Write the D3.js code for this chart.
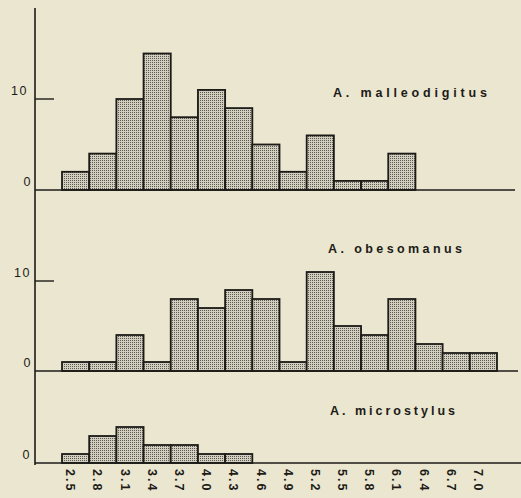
<!DOCTYPE html>
<html>
<head>
<meta charset="utf-8">
<script src="https://cdn.jsdelivr.net/npm/d3@7"></script>
<style>
html,body{margin:0;padding:0;background:#ebe6cf;}
svg{display:block;}
</style>
</head>
<body>
<svg id="chart" width="521" height="498"></svg>
<script>
// ---- data ----
const bins = ["2.5","2.8","3.1","3.4","3.7","4.0","4.3","4.6","4.9","5.2","5.5","5.8","6.1","6.4","6.7","7.0"];
const malleodigitus = [2,4,10,15,8,11,9,5,2,6,1,1,4,0,0,0];
const obesomanus    = [1,1,4,1,8,7,9,8,1,11,5,4,8,3,2,2];
const microstylus   = [1,3,4,2,2,1,1,0,0,0,0,0,0,0,0,0];
const speciesNames  = ["A. malleodigitus","A. obesomanus","A. microstylus"];
const yTicks = [[0,10],[0,10],[0]];

// ---- layout ----
const svg = d3.select("#chart");
const W = 521, H = 498;
const axisX = 35;
const ink = "#1c1b18";

svg.append("rect").attr("width",W).attr("height",H).attr("fill","#ebe6cf");

const defs = svg.append("defs");
const pat = defs.append("pattern").attr("id","dots").attr("patternUnits","userSpaceOnUse")
  .attr("width",2).attr("height",2);
pat.append("rect").attr("width",2).attr("height",2).attr("fill","#d2cebf");
pat.append("rect").attr("width",1).attr("height",1).attr("fill","#5c5951");

const x = d3.scaleBand().domain(bins).range([62, 497]).paddingInner(0).paddingOuter(0);

const panels = [
  {vals: malleodigitus, base: 190, ppu: 9.1, lineEnd: 515, label: speciesNames[0], lx: 333, ly: 97, lw: 154, tickLblX: [32, 28]},
  {vals: obesomanus,    base: 371, ppu: 9.0, lineEnd: 518, label: speciesNames[1], lx: 328, ly: 253, lw: 134, tickLblX: [32, 31]},
  {vals: microstylus,   base: 463, ppu: 9.0, lineEnd: 521, label: speciesNames[2], lx: 330, ly: 415, lw: 125, tickLblX: [31]}
];

panels.forEach((p, i) => {
  const y = d3.scaleLinear().domain([0, 10]).range([p.base, p.base - 10 * p.ppu]);
  const g = svg.append("g");
  const data = bins.map((b, j) => ({bin: b, v: p.vals[j]})).filter(d => d.v > 0);

  g.selectAll("rect.bar").data(data).enter().append("rect")
    .attr("class","bar")
    .attr("x", d => x(d.bin))
    .attr("y", d => y(d.v))
    .attr("width", x.bandwidth())
    .attr("height", d => y(0) - y(d.v))
    .attr("fill","url(#dots)")
    .attr("stroke", ink)
    .attr("stroke-width", 1.8);

  // baseline
  g.append("line").attr("x1", axisX).attr("x2", p.lineEnd)
    .attr("y1", y(0)).attr("y2", y(0))
    .attr("stroke", ink).attr("stroke-width", 1.6);

  // y ticks
  yTicks[i].forEach((t, k) => {
    if (t !== 0) {
      g.append("line").attr("x1", axisX).attr("x2", axisX + 19)
        .attr("y1", y(t)).attr("y2", y(t))
        .attr("stroke", ink).attr("stroke-width", 1.4);
    }
    g.append("text").attr("x", p.tickLblX[k]).attr("y", y(t) - 4)
      .attr("text-anchor","end")
      .attr("font-family","Liberation Sans, Arial, sans-serif")
      .attr("font-size", 12.5).attr("fill", ink)
      .attr("letter-spacing", 1.5)
      .text(String(t));
  });

  // species label
  g.append("text").attr("x", p.lx).attr("y", p.ly)
    .attr("font-family","Liberation Sans, Arial, sans-serif")
    .attr("font-size", 12.5).attr("font-weight","bold").attr("fill", ink)
    .attr("textLength", p.lw).attr("lengthAdjust","spacing")
    .text(p.label);
});

// vertical axis
svg.append("line").attr("x1", axisX).attr("x2", axisX).attr("y1", 8).attr("y2", 465)
  .attr("stroke", ink).attr("stroke-width", 1.6);

// x tick labels, rotated
svg.append("g").selectAll("text").data(bins).enter().append("text")
  .attr("transform", d => `translate(${x(d) + x.bandwidth()/2 - 5},469) rotate(90)`)
  .attr("dy","0.35em")
  .attr("font-family","Liberation Sans, Arial, sans-serif")
  .attr("font-size", 12.5).attr("font-weight","bold").attr("fill", ink)
  .attr("letter-spacing", 2)
  .text(d => d);
</script>
</body>
</html>
